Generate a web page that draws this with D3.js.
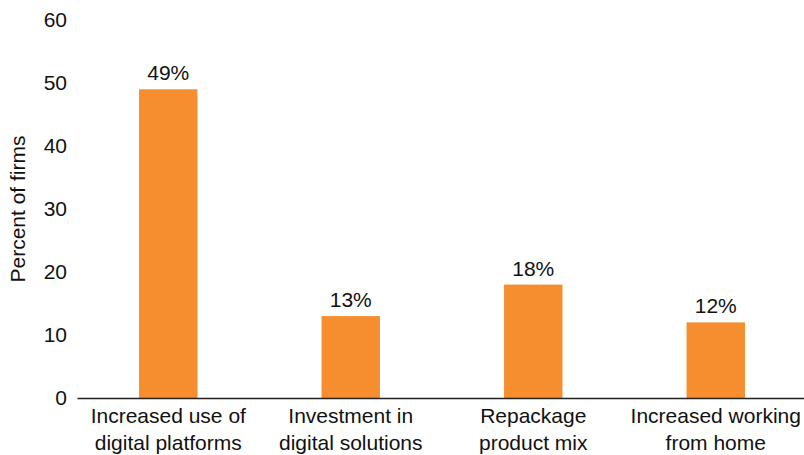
<!DOCTYPE html>
<html>
<head>
<meta charset="utf-8">
<script src="https://cdn.jsdelivr.net/npm/d3@7"></script>
<style>
  body { margin: 0; background: #fff; }
  svg { display: block; font-family: "Liberation Sans", Arial, Helvetica, sans-serif; }
</style>
</head>
<body>
<svg id="chart" width="804" height="455"></svg>
<script>
// Share of firms by adopted response
const categories = [
  ["Increased use of", "digital platforms"],
  ["Investment in", "digital solutions"],
  ["Repackage", "product mix"],
  ["Increased working", "from home"]
];
const values = [49, 13, 18, 12];
const yTicks = [0, 10, 20, 30, 40, 50, 60];
const yTitle = "Percent of firms";

const svg = d3.select("#chart");
const margin = { left: 77, right: -3, top: 20, bottom: 57 };
const W = 804, H = 455;
const FS = 21;

const x = d3.scaleBand()
  .domain(d3.range(categories.length))
  .range([margin.left, W - margin.right])
  .paddingInner(0.68)
  .paddingOuter(0.34);

const y = d3.scaleLinear()
  .domain([0, 60])
  .range([H - margin.bottom, margin.top]);

// bars
svg.append("g").selectAll("rect")
  .data(values)
  .join("rect")
  .attr("x", (d, i) => x(i))
  .attr("width", x.bandwidth())
  .attr("y", d => y(d))
  .attr("height", d => y(0) - y(d))
  .attr("fill", "#F68D2E");

// value labels
svg.append("g").selectAll("text")
  .data(values)
  .join("text")
  .attr("x", (d, i) => x(i) + x.bandwidth() / 2)
  .attr("y", d => y(d) - 9)
  .attr("text-anchor", "middle")
  .attr("font-size", FS)
  .attr("fill", "#111")
  .text(d => d + "%");

// y axis (labels only)
const yAxis = d3.axisLeft(y).tickValues(yTicks).tickSize(0).tickPadding(10);
const gy = svg.append("g")
  .attr("transform", `translate(${margin.left},0)`)
  .call(yAxis);
gy.select(".domain").remove();
gy.selectAll("text")
  .attr("font-size", FS)
  .attr("fill", "#111")
  .attr("font-family", "Liberation Sans, Arial, sans-serif");

// x axis baseline and category labels
const xAxis = d3.axisBottom(x).tickSize(0).tickFormat(() => "");
const gx = svg.append("g")
  .attr("transform", `translate(0,${y(0)})`)
  .call(xAxis);
gx.select(".domain")
  .attr("stroke", "#222")
  .attr("stroke-width", 1.5);

gx.selectAll(".tick").each(function (i) {
  const t = d3.select(this).append("text")
    .attr("text-anchor", "middle")
    .attr("font-size", FS)
    .attr("fill", "#111")
    .attr("font-family", "Liberation Sans, Arial, sans-serif");
  categories[i].forEach((line, k) => {
    t.append("tspan")
      .attr("x", 0)
      .attr("y", 25 + k * 27)
      .text(line);
  });
});

// y axis title
svg.append("text")
  .attr("transform", `translate(25,${(y(0) + y(60)) / 2}) rotate(-90)`)
  .attr("text-anchor", "middle")
  .attr("font-size", FS)
  .attr("fill", "#111")
  .text(yTitle);
</script>
</body>
</html>
